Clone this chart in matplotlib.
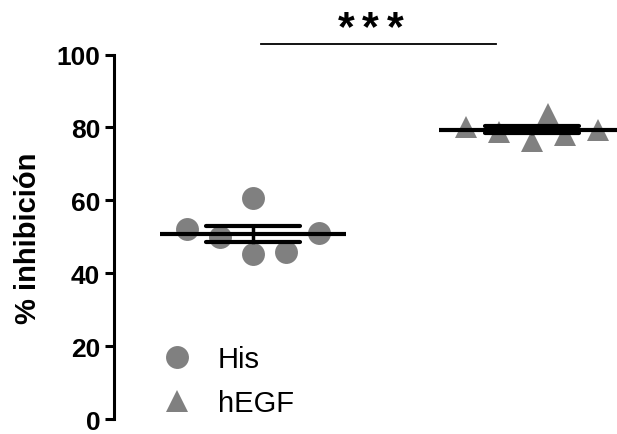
import numpy as np
import matplotlib
matplotlib.use("Agg")
import matplotlib.pyplot as plt
from matplotlib.lines import Line2D

plt.rcParams['font.family'] = ['Liberation Sans', 'DejaVu Sans']

# data (% inhibicion)
groups = ["His", "hEGF"]
his_vals = [52.2, 49.9, 60.7, 45.4, 45.8, 51.0]
hegf_vals = [80.2, 78.8, 76.2, 83.8, 78.0, 79.3]
y_ticks = [0, 20, 40, 60, 80, 100]
sig_label = "***"

# horizontal scatter of the points (in units of point spacing)
his_offsets = [-2, -1, 0, 0, 1, 2]
hegf_offsets = [-2, -1, 0, 0.5, 1, 2]

gray = "#808080"
spacing = 0.118

fig = plt.figure(figsize=(6.17, 4.35), dpi=100)
ax = fig.add_axes([0.1848, 0.034, 1.0 - 0.1848, 0.8724 - 0.034])

markers = ["o", "^"]
for i, (vals, offs) in enumerate([(his_vals, his_offsets), (hegf_vals, hegf_offsets)]):
    center = i + 1
    xs = center + np.array(offs) * spacing
    ax.plot(xs, vals, linestyle="none", marker=markers[i], markersize=16.5,
            color=gray, markeredgewidth=0, zorder=2, clip_on=False)
    vals = np.array(vals)
    m = vals.mean()
    sem = vals.std(ddof=1) / np.sqrt(len(vals))
    # mean line
    ax.plot([center - 0.332, center + 0.332], [m, m], color="black", lw=3,
            solid_capstyle="butt", zorder=3, clip_on=False)
    # sem error bar
    ax.plot([center - 0.168, center + 0.168], [m + sem, m + sem], color="black",
            lw=3, solid_capstyle="round", zorder=3, clip_on=False)
    ax.plot([center - 0.168, center + 0.168], [m - sem, m - sem], color="black",
            lw=3, solid_capstyle="round", zorder=3, clip_on=False)
    ax.plot([center, center], [m - sem, m + sem], color="black", lw=2.5,
            zorder=3, clip_on=False)

# significance bar and stars (each star placed apart, as in the original)
ax.plot([1.029, 1.871], [102.8, 102.8], color="black", lw=1.3, clip_on=False)
for k, ch in enumerate(sig_label):
    ax.text(1.333 + k * 0.088, 104.2, ch, ha="center", va="baseline",
            fontsize=31, fontweight="bold", clip_on=False)

ax.set_xlim(0.502, 2.305)
ax.set_ylim(0, 100)
ax.set_yticks(y_ticks)
ax.set_yticklabels([str(t) for t in y_ticks], fontsize=19, fontweight="bold")
ax.set_xticks([])
for s in ["top", "right", "bottom"]:
    ax.spines[s].set_visible(False)
ax.spines["left"].set_linewidth(2.2)
ax.tick_params(axis="y", direction="out", length=6.5, width=2.2, pad=3.5)
ax.set_ylabel("% inhibición", fontsize=21, fontweight="bold", labelpad=10)

handles = [Line2D([], [], linestyle="none", marker=markers[i], markersize=16.5,
                  color=gray, markeredgewidth=0) for i in range(2)]
fig.legend(handles, groups, loc="center left", bbox_to_anchor=(0.2634, 0.122),
           frameon=False, fontsize=21, handlelength=1.0, handletextpad=0.9,
           borderpad=0, borderaxespad=0, labelspacing=0.55)

fig.savefig("out.png", dpi=100)
